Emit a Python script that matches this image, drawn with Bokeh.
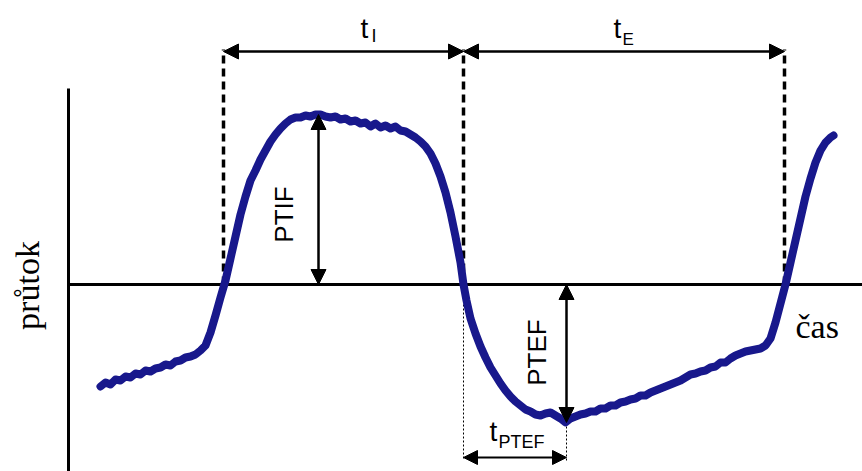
import math
from bokeh.plotting import figure
from bokeh.models import Range1d, Arrow, NormalHead, Label
from bokeh.embed import file_html
from bokeh.resources import INLINE

# ---- data (time in ms-like units, flow in arbitrary units; 0 = no flow) ----
time = [100, 105, 110, 115, 120, 125, 130, 135, 140, 145, 150, 155, 160, 165, 170,
        175, 180, 185, 190, 195, 200, 205, 210, 215, 220, 225, 230, 235, 240, 245,
        250, 255, 260, 265, 270, 275, 280, 285, 290, 295, 300, 305, 310, 315, 320,
        325, 330, 335, 340, 345, 350, 355, 360, 365, 370, 375, 380, 385, 390, 395,
        400, 405, 410, 415, 420, 425, 430, 435, 440, 445, 450, 455, 460, 463, 466,
        470, 475, 480, 485, 490, 495, 500, 505, 510, 515, 520, 525, 530, 535, 540,
        545, 550, 555, 560, 565, 570, 575, 580, 585, 590, 595, 600, 605, 610, 615,
        620, 625, 630, 635, 640, 645, 650, 655, 660, 665, 670, 675, 680, 685, 690,
        695, 700, 705, 710, 715, 720, 725, 730, 735, 740, 745, 750, 755, 760, 765,
        770, 775, 780, 785, 790, 795, 800, 805, 810, 815, 820, 825, 830, 833]
flow = [-102, -98, -100, -95, -96, -92, -93, -89, -90, -86, -87, -84, -83, -80, -81,
        -77, -76, -73, -72, -70, -66, -61, -48, -31, -13, 4, 26, 48, 70, 88,
        104, 114, 125, 134, 143, 150, 156, 161, 165, 167, 167, 169, 168, 170, 170,
        168, 167, 168, 165, 166, 163, 164, 161, 162, 158, 161, 157, 159, 156, 158,
        154, 153, 150, 147, 143, 138, 131, 121, 108, 92, 72, 48, 22, 0, -16,
        -34, -49, -62, -73, -83, -91, -99, -106, -112, -117, -121, -125, -127, -130, -131,
        -129, -128, -131, -134, -138, -134, -132, -130, -129, -127, -127, -124, -124, -121, -121,
        -118, -117, -115, -114, -111, -111, -108, -106, -104, -102, -100, -98, -96, -93, -90,
        -89, -87, -86, -83, -82, -78, -78, -74, -71, -69, -67, -66, -65, -64, -61,
        -54, -38, -19, 0, 22, 44, 66, 88, 106, 122, 134, 142, 147, 149]

t_insp_start = 223
t_insp_end = 463
t_exp_end = 784
t_ptif = 318
ptif = 170
t_ptef = 566
ptef = -138

# ---- styling / layout ----
W, H = 862, 471
axis_t0 = 68
flow_top = 196
flow_min, flow_max = -187, 284
arrow_level = 233
tptef_level = -173
curve_color = "#18188c"
sans = "Liberation Sans"
serif = "Liberation Serif"

p = figure(width=W, height=H, output_backend="svg", toolbar_location=None,
           x_range=Range1d(0, W), y_range=Range1d(flow_min, flow_max),
           min_border=0, min_border_left=0, min_border_right=0,
           min_border_top=0, min_border_bottom=0)
p.axis.visible = False
p.grid.visible = False
p.outline_line_color = None
p.background_fill_color = "white"
p.border_fill_color = "white"

# axes
p.segment(x0=[axis_t0], y0=[flow_top], x1=[axis_t0], y1=[flow_min],
          line_color="black", line_width=3)
p.segment(x0=[axis_t0], y0=[0], x1=[W], y1=[0], line_color="black", line_width=3)

# dashed verticals for breath phases
for t in (t_insp_start, t_insp_end, t_exp_end):
    p.segment(x0=[t], y0=[0], x1=[t], y1=[arrow_level + 2], line_color="black",
              line_width=3.5, line_dash="8 5")

# dotted lines for tPTEF
p.segment(x0=[t_insp_end, t_ptef], y0=[0, ptef], x1=[t_insp_end, t_ptef],
          y1=[tptef_level - 3, tptef_level - 3], line_color="black",
          line_width=1, line_dash="2 2")

# flow curve
p.line(time, flow, line_color=curve_color, line_width=8,
       line_join="round", line_cap="round")


def darrow(x0, y0, x1, y1, size=15, lw=2.5):
    p.add_layout(Arrow(
        start=NormalHead(size=size, fill_color="black", line_color="black"),
        end=NormalHead(size=size, fill_color="black", line_color="black"),
        x_start=x0, y_start=y0, x_end=x1, y_end=y1,
        line_color="black", line_width=lw))


darrow(t_insp_start, arrow_level, t_insp_end, arrow_level)
darrow(t_insp_end, arrow_level, t_exp_end, arrow_level)
darrow(t_ptif, 0, t_ptif, ptif)
darrow(t_ptef, 0, t_ptef, ptef)
darrow(t_insp_end, tptef_level, t_ptef, tptef_level, size=14, lw=2)


def lab(x, y, text, size, font=sans, angle=0.0, align="left", baseline="alphabetic"):
    p.add_layout(Label(x=x, y=y, text=text, text_font=font,
                       text_font_size=f"{size}px", angle=angle,
                       text_align=align, text_baseline=baseline,
                       text_color="black"))


# t_I
lab(360, 256, "t", 28)
lab(371, 249, "I", 18)
# t_E
lab(613, 256, "t", 28)
lab(622, 245, "E", 17)
# t_PTEF
lab(489, -147, "t", 28)
lab(498, -157, "PTEF", 18)

# PTIF / PTEF
lab(283, 70, "PTIF", 26, angle=math.pi / 2, align="center", baseline="middle")
lab(536, -68, "PTEF", 26, angle=math.pi / 2, align="center", baseline="middle")

# axis titles
lab(27, -1, "průtok", 34, font=serif, angle=math.pi / 2, align="center", baseline="middle")
lab(795, -42, "čas", 34, font=serif)

open("out.html", "w").write(file_html(p, INLINE))
